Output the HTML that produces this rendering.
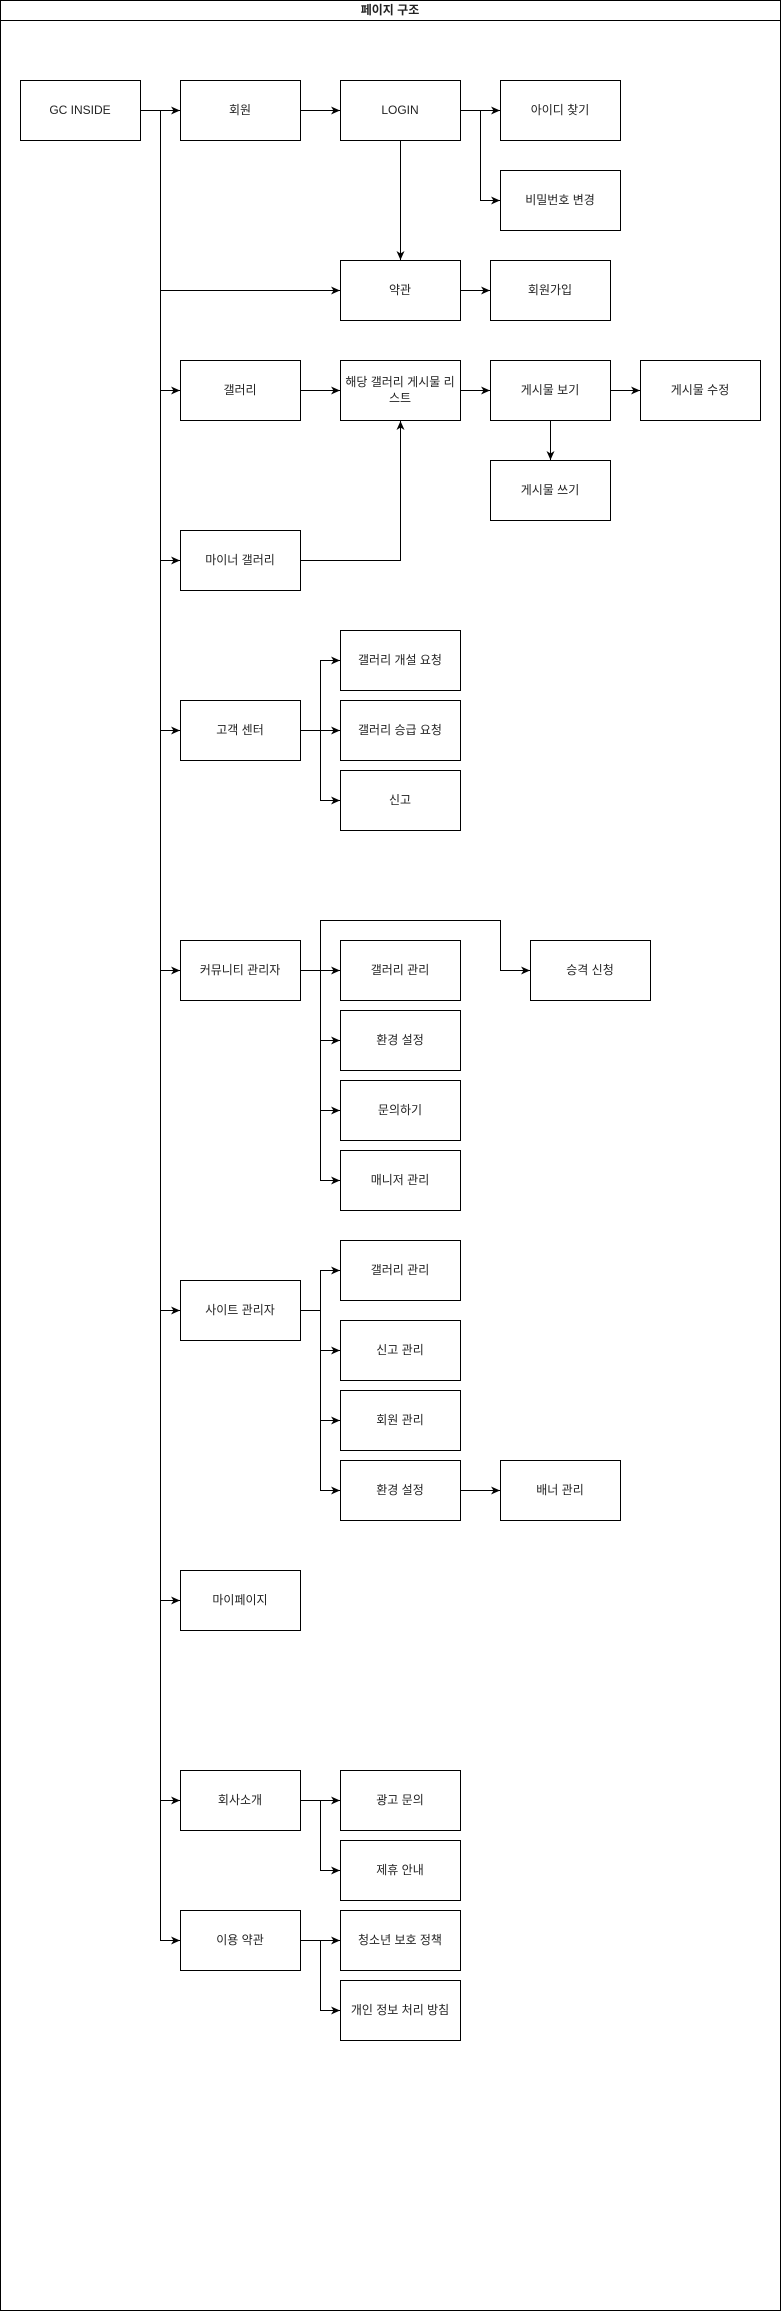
<!DOCTYPE html>
<html><head><meta charset="utf-8"><style>
html,body{margin:0;padding:0;background:#fff}
svg{display:block}
text{font-family:"Liberation Sans","Noto Sans CJK KR",sans-serif;font-size:12px;fill:#222;text-anchor:middle;dominant-baseline:central}
</style></head><body>
<svg width="781" height="2311" viewBox="0 0 781 2311" xmlns="http://www.w3.org/2000/svg">
<defs><marker id="a" markerWidth="10" markerHeight="10" refX="9" refY="5" orient="auto" markerUnits="userSpaceOnUse"><path d="M0,1 L9,5 L0,9 L2.5,5 z" fill="#000"/></marker></defs>
<rect x="0.5" y="0.5" width="780" height="2310" fill="#fff" stroke="#000"/>
<line x1="0" y1="20.5" x2="781" y2="20.5" stroke="#000"/>
<text x="390" y="10" style="font-weight:bold">페이지 구조</text>
<g fill="#fff" stroke="#000">
<rect x="20.5" y="80.5" width="120" height="60"/>
<rect x="180.5" y="80.5" width="120" height="60"/>
<rect x="340.5" y="80.5" width="120" height="60"/>
<rect x="500.5" y="80.5" width="120" height="60"/>
<rect x="500.5" y="170.5" width="120" height="60"/>
<rect x="340.5" y="260.5" width="120" height="60"/>
<rect x="490.5" y="260.5" width="120" height="60"/>
<rect x="180.5" y="360.5" width="120" height="60"/>
<rect x="340.5" y="360.5" width="120" height="60"/>
<rect x="490.5" y="360.5" width="120" height="60"/>
<rect x="640.5" y="360.5" width="120" height="60"/>
<rect x="490.5" y="460.5" width="120" height="60"/>
<rect x="180.5" y="530.5" width="120" height="60"/>
<rect x="340.5" y="630.5" width="120" height="60"/>
<rect x="180.5" y="700.5" width="120" height="60"/>
<rect x="340.5" y="700.5" width="120" height="60"/>
<rect x="340.5" y="770.5" width="120" height="60"/>
<rect x="180.5" y="940.5" width="120" height="60"/>
<rect x="340.5" y="940.5" width="120" height="60"/>
<rect x="530.5" y="940.5" width="120" height="60"/>
<rect x="340.5" y="1010.5" width="120" height="60"/>
<rect x="340.5" y="1080.5" width="120" height="60"/>
<rect x="340.5" y="1150.5" width="120" height="60"/>
<rect x="340.5" y="1240.5" width="120" height="60"/>
<rect x="180.5" y="1280.5" width="120" height="60"/>
<rect x="340.5" y="1320.5" width="120" height="60"/>
<rect x="340.5" y="1390.5" width="120" height="60"/>
<rect x="340.5" y="1460.5" width="120" height="60"/>
<rect x="500.5" y="1460.5" width="120" height="60"/>
<rect x="180.5" y="1570.5" width="120" height="60"/>
<rect x="180.5" y="1770.5" width="120" height="60"/>
<rect x="340.5" y="1770.5" width="120" height="60"/>
<rect x="340.5" y="1840.5" width="120" height="60"/>
<rect x="180.5" y="1910.5" width="120" height="60"/>
<rect x="340.5" y="1910.5" width="120" height="60"/>
<rect x="340.5" y="1980.5" width="120" height="60"/>
</g>
<g fill="none" stroke="#000" marker-end="url(#a)">
<path d="M140.5 110.5H180"/>
<path d="M160.5 110.5V1940.5H180"/>
<path d="M160.5 290.5H340"/>
<path d="M160.5 390.5H180"/>
<path d="M160.5 560.5H180"/>
<path d="M160.5 730.5H180"/>
<path d="M160.5 970.5H180"/>
<path d="M160.5 1310.5H180"/>
<path d="M160.5 1600.5H180"/>
<path d="M160.5 1800.5H180"/>
<path d="M300.5 110.5H340"/>
<path d="M460.5 110.5H500"/>
<path d="M480.5 110.5V200.5H500"/>
<path d="M400.5 140.5V260"/>
<path d="M460.5 290.5H490"/>
<path d="M300.5 390.5H340"/>
<path d="M460.5 390.5H490"/>
<path d="M610.5 390.5H640"/>
<path d="M550.5 420.5V460"/>
<path d="M300.5 560.5H400.5V421"/>
<path d="M300.5 730.5H340"/>
<path d="M320.5 730.5V660.5H340"/>
<path d="M320.5 730.5V800.5H340"/>
<path d="M300.5 970.5H340"/>
<path d="M320.5 970.5V920.5H500.5V970.5H530"/>
<path d="M320.5 970.5V1040.5H340"/>
<path d="M320.5 970.5V1110.5H340"/>
<path d="M320.5 970.5V1180.5H340"/>
<path d="M300.5 1310.5H320.5V1270.5H340"/>
<path d="M320.5 1310.5V1350.5H340"/>
<path d="M320.5 1310.5V1420.5H340"/>
<path d="M320.5 1310.5V1490.5H340"/>
<path d="M460.5 1490.5H500"/>
<path d="M300.5 1800.5H340"/>
<path d="M320.5 1800.5V1870.5H340"/>
<path d="M300.5 1940.5H340"/>
<path d="M320.5 1940.5V2010.5H340"/>
</g>
<text x="80" y="110">GC INSIDE</text>
<text x="240" y="110">회원</text>
<text x="400" y="110">LOGIN</text>
<text x="560" y="110">아이디 찾기</text>
<text x="560" y="200">비밀번호 변경</text>
<text x="400" y="290">약관</text>
<text x="550" y="290">회원가입</text>
<text x="240" y="390">갤러리</text>
<text x="400" y="382">해당 갤러리 게시물 리</text>
<text x="400" y="398">스트</text>
<text x="550" y="390">게시물 보기</text>
<text x="700" y="390">게시물 수정</text>
<text x="550" y="490">게시물 쓰기</text>
<text x="240" y="560">마이너 갤러리</text>
<text x="400" y="660">갤러리 개설 요청</text>
<text x="240" y="730">고객 센터</text>
<text x="400" y="730">갤러리 승급 요청</text>
<text x="400" y="800">신고</text>
<text x="240" y="970">커뮤니티 관리자</text>
<text x="400" y="970">갤러리 관리</text>
<text x="590" y="970">승격 신청</text>
<text x="400" y="1040">환경 설정</text>
<text x="400" y="1110">문의하기</text>
<text x="400" y="1180">매니저 관리</text>
<text x="400" y="1270">갤러리 관리</text>
<text x="240" y="1310">사이트 관리자</text>
<text x="400" y="1350">신고 관리</text>
<text x="400" y="1420">회원 관리</text>
<text x="400" y="1490">환경 설정</text>
<text x="560" y="1490">배너 관리</text>
<text x="240" y="1600">마이페이지</text>
<text x="240" y="1800">회사소개</text>
<text x="400" y="1800">광고 문의</text>
<text x="400" y="1870">제휴 안내</text>
<text x="240" y="1940">이용 약관</text>
<text x="400" y="1940">청소년 보호 정책</text>
<text x="400" y="2010">개인 정보 처리 방침</text>
</svg>
</body></html>
